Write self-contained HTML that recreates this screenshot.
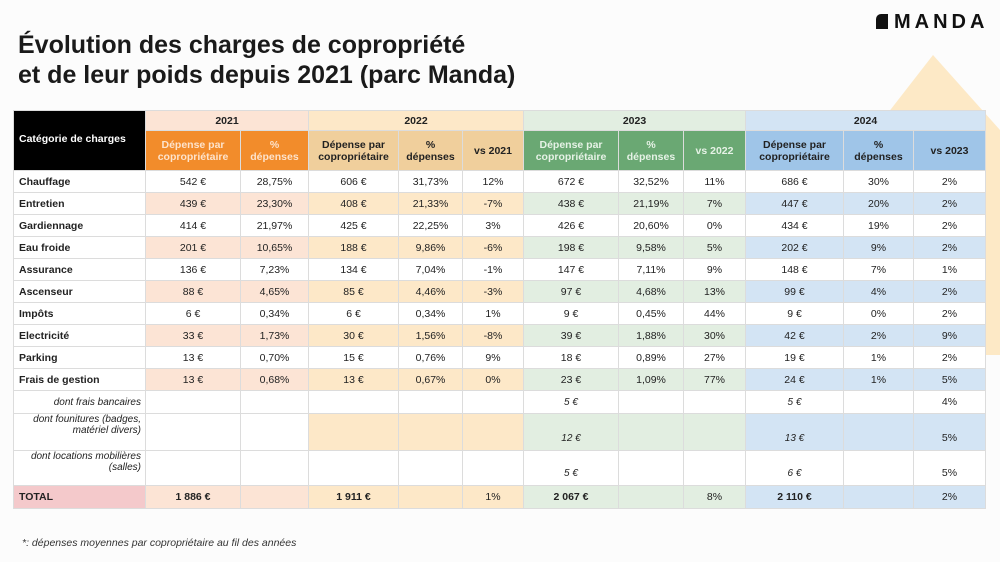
<!DOCTYPE html>
<html><head><meta charset="utf-8">
<style>
body{margin:0;width:1000px;height:562px;background:#fcfcfc;position:relative;overflow:hidden;font-family:"Liberation Sans",sans-serif;color:#222}
#tri{position:absolute;left:0;top:0}
h1{position:absolute;left:18px;top:30px;margin:0;font-size:25px;line-height:30px;font-weight:bold;color:#1a1a1a}
#logo{position:absolute;left:876px;top:11px;font-size:20px;font-weight:bold;letter-spacing:4px;color:#111}
#logo .ic{display:inline-block;width:12px;height:15px;background:#111;border-radius:5px 0 0 0;vertical-align:-1px;margin-right:6px}
table{position:absolute;left:13px;top:110px;border-collapse:collapse;table-layout:fixed;font-size:10.5px}
td{border:1px solid #dcdcdc;text-align:center;padding:0;overflow:hidden}
td.cat{text-align:left;padding-left:5px;font-weight:bold}
.it{font-style:italic;font-size:10px}
td.sub{text-align:right;padding-right:4px;font-weight:normal;font-style:italic}
.hd{font-weight:bold}
#note{position:absolute;left:22px;top:537px;font-size:10.5px;font-style:italic;color:#333}
</style></head><body>
<svg id="tri" width="1000" height="562"><polygon points="933,55 700,355 1000,355 1000,130" fill="#fde9c6"/></svg>
<h1>Évolution des charges de copropriété<br>et de leur poids depuis 2021 (parc Manda)</h1>
<div id="logo"><span class="ic"></span>MANDA</div>
<table id="t">
<colgroup><col style="width:132px"><col style="width:95px"><col style="width:68px"><col style="width:90px"><col style="width:64px"><col style="width:61px"><col style="width:95px"><col style="width:65px"><col style="width:62px"><col style="width:98px"><col style="width:70px"><col style="width:72px"></colgroup>
<tr style="height:20px" class="hd">
<td rowspan="2" class="cat" style="background:#000;color:#fff;vertical-align:top;padding-top:22px">Catégorie de charges</td>
<td colspan="2" style="background:#fce4d5">2021</td>
<td colspan="3" style="background:#fde8c8">2022</td>
<td colspan="3" style="background:#e2eee1">2023</td>
<td colspan="3" style="background:#d3e4f4">2024</td>
</tr>
<tr style="height:40px" class="hd">
<td style="background:#f28c2b;color:#fde3cc">Dépense par<br>copropriétaire</td><td style="background:#f28c2b;color:#fde3cc">%<br>dépenses</td>
<td style="background:#f0cf9c">Dépense par<br>copropriétaire</td><td style="background:#f0cf9c">%<br>dépenses</td><td style="background:#f0cf9c">vs 2021</td>
<td style="background:#6aa873;color:#e6f2e6">Dépense par<br>copropriétaire</td><td style="background:#6aa873;color:#e6f2e6">%<br>dépenses</td><td style="background:#6aa873;color:#e6f2e6">vs 2022</td>
<td style="background:#9fc5e8">Dépense par<br>copropriétaire</td><td style="background:#9fc5e8">%<br>dépenses</td><td style="background:#9fc5e8">vs 2023</td>
</tr>
</table>
<div id="note">*: dépenses moyennes par copropriétaire au fil des années</div>
<script>
const categories=["Chauffage","Entretien","Gardiennage","Eau froide","Assurance","Ascenseur","Impôts","Electricité","Parking","Frais de gestion"];
const dep2021=[542,439,414,201,136,88,6,33,13,13];
const pct2021=["28,75%","23,30%","21,97%","10,65%","7,23%","4,65%","0,34%","1,73%","0,70%","0,68%"];
const dep2022=[606,408,425,188,134,85,6,30,15,13];
const pct2022=["31,73%","21,33%","22,25%","9,86%","7,04%","4,46%","0,34%","1,56%","0,76%","0,67%"];
const vs2021=["12%","-7%","3%","-6%","-1%","-3%","1%","-8%","9%","0%"];
const dep2023=[672,438,426,198,147,97,9,39,18,23];
const pct2023=["32,52%","21,19%","20,60%","9,58%","7,11%","4,68%","0,45%","1,88%","0,89%","1,09%"];
const vs2022=["11%","7%","0%","5%","9%","13%","44%","30%","27%","77%"];
const dep2024=[686,447,434,202,148,99,9,42,19,24];
const pct2024=["30%","20%","19%","9%","7%","4%","0%","2%","1%","1%"];
const vs2023=["2%","2%","2%","2%","1%","2%","2%","9%","2%","5%"];
const subCats=["dont frais bancaires","dont founitures (badges,<br>matériel divers)","dont locations mobilières<br>(salles)"];
const sub2023=[5,12,5];
const sub2024=[5,13,6];
const subVs=["4%","5%","5%"];
const totals=["1 886 €","1 911 €","1%","2 067 €","8%","2 110 €","2%"];
const t=document.getElementById('t');
const tints=["#fce4d5","#fde8c8","#e2eee1","#d3e4f4"];
function row(h){const r=t.insertRow();r.style.height=h+'px';return r;}
function cell(r,html,bg,cls){const c=r.insertCell();c.innerHTML=html;if(bg)c.style.background=bg;if(cls)c.className=cls;return c;}
categories.forEach((cat,i)=>{
  const r=row(22);
  
  
  const alt=i%2===1;
  const b=k=>alt?tints[k]:"#fff";
  cell(r,cat,"#fff","cat");
  cell(r,dep2021[i]+" €",b(0));cell(r,pct2021[i],b(0));
  cell(r,dep2022[i]+" €",b(1));cell(r,pct2022[i],b(1));cell(r,vs2021[i],b(1));
  cell(r,dep2023[i]+" €",b(2));cell(r,pct2023[i],b(2));cell(r,vs2022[i],b(2));
  cell(r,dep2024[i]+" €",b(3));cell(r,pct2024[i],b(3));cell(r,vs2023[i],b(3));
});
const subH=[23,37,35];
subCats.forEach((s,i)=>{
  const r=row(subH[i]);
  
  
  const alt=i===1;
  const b=k=>alt?tints[k]:"#fff";
  const va=i===0?"middle":"bottom";
  const c0=cell(r,s,"#fff","cat sub it");c0.style.verticalAlign=i===0?"middle":"top";
  cell(r,"","#fff");cell(r,"","#fff");
  cell(r,"",b(1));cell(r,"",b(1));cell(r,"",b(1));
  const a=cell(r,sub2023[i]+" €",b(2),"it");a.style.verticalAlign=va;a.style.paddingBottom=i?"6px":"0";
  cell(r,"",b(2));cell(r,"",b(2));
  const d=cell(r,sub2024[i]+" €",b(3),"it");d.style.verticalAlign=va;d.style.paddingBottom=i?"6px":"0";
  cell(r,"",b(3));
  const v=cell(r,subVs[i],b(3));v.style.verticalAlign=va;v.style.paddingBottom=i?"6px":"0";
});
const tr=row(23);


cell(tr,"TOTAL","#f4c9cb","cat");
const tb=(h,k,bold)=>{const c=cell(tr,h,tints[k]);if(bold)c.style.fontWeight="bold";};
tb(totals[0],0,1);tb("",0);
tb(totals[1],1,1);tb("",1);tb(totals[2],1);
tb(totals[3],2,1);tb("",2);tb(totals[4],2);
tb(totals[5],3,1);tb("",3);tb(totals[6],3);
</script>
</body></html>
